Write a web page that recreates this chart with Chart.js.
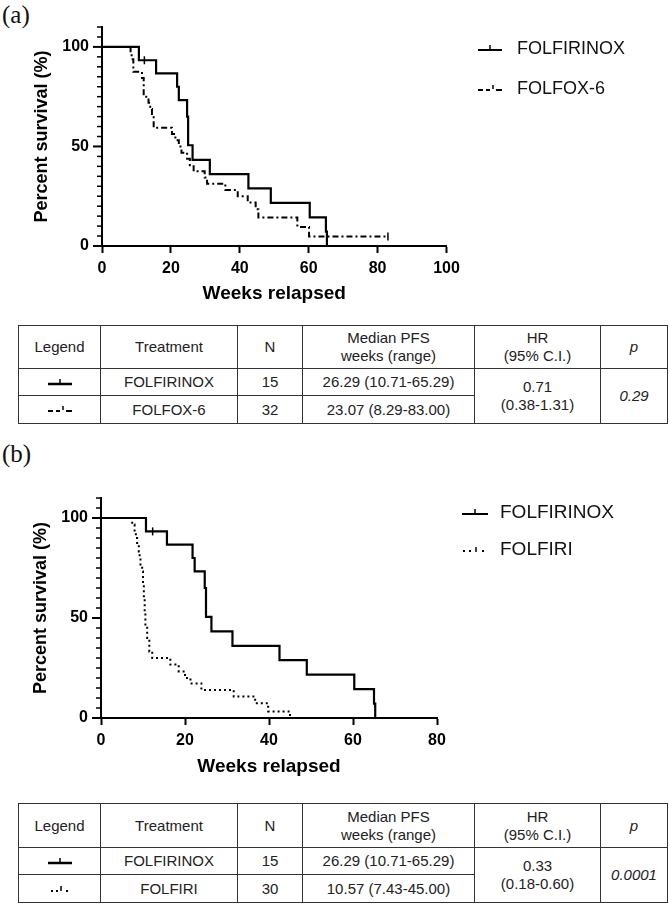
<!DOCTYPE html>
<html>
<head>
<meta charset="utf-8">
<script src="https://cdn.jsdelivr.net/npm/chart.js@4.4.1/dist/chart.umd.min.js"></script>
<style>
  body { margin: 0; background: #fff; width: 669px; height: 907px; position: relative; overflow: hidden;
         font-family: "Liberation Sans", Arial, sans-serif; color: #111; }
  .panel-label { position: absolute; left: 2px; font-family: "Liberation Serif", "Times New Roman", serif;
                 font-size: 25px; line-height: 28px; }
  .chart-box { position: absolute; left: 0; width: 480px; height: 320px; }
  .leg { position: absolute; height: 24px; display: flex; align-items: center; white-space: nowrap; }
  table.stats { position: absolute; left: 18px; width: 649px; border-collapse: collapse; table-layout: fixed;
                font-family: "Liberation Sans Narrow", "Arial Narrow", "Liberation Sans", sans-serif;
                font-size: 15px; color: #222; text-align: center; }
  table.stats td { border: 1.5px solid #333; padding: 0; line-height: 18px; vertical-align: middle; }
</style>
</head>
<body>

<div class="panel-label" style="top:1px">(a)</div>
<div class="chart-box" style="top:0"><canvas id="chartA" width="480" height="320"></canvas></div>
<div class="leg" style="left:478px; top:36px; font-size:18px">
  <svg width="26" height="14"><line x1="0" y1="9" x2="24" y2="9" stroke="#000" stroke-width="2"/><line x1="12" y1="9" x2="12" y2="4" stroke="#000" stroke-width="1.5"/></svg>
  <span style="margin-left:13px">FOLFIRINOX</span>
</div>
<div class="leg" style="left:478px; top:76px; font-size:18px">
  <svg width="26" height="14"><line x1="0" y1="9" x2="5" y2="9" stroke="#000" stroke-width="2"/><line x1="8" y1="9" x2="12" y2="9" stroke="#000" stroke-width="2"/><line x1="15" y1="8" x2="15" y2="4" stroke="#000" stroke-width="1.5"/><line x1="18" y1="9" x2="24" y2="9" stroke="#000" stroke-width="2"/></svg>
  <span style="margin-left:13px">FOLFOX-6</span>
</div>

<table class="stats" style="top:325px">
  <colgroup><col style="width:82px"><col style="width:137px"><col style="width:65px"><col style="width:172px"><col style="width:126px"><col style="width:67px"></colgroup>
  <tr style="height:43px"><td>Legend</td><td>Treatment</td><td>N</td><td>Median PFS<br>weeks (range)</td><td>HR<br>(95% C.I.)</td><td><i>p</i></td></tr>
  <tr style="height:27px"><td><svg width="26" height="12"><line x1="1" y1="9" x2="25" y2="9" stroke="#000" stroke-width="2.5"/><line x1="13" y1="9" x2="13" y2="4" stroke="#000" stroke-width="1.5"/></svg></td><td>FOLFIRINOX</td><td>15</td><td>26.29 (10.71-65.29)</td><td rowspan="2">0.71<br>(0.38-1.31)</td><td rowspan="2"><i>0.29</i></td></tr>
  <tr style="height:28px"><td><svg width="26" height="12"><line x1="1" y1="8" x2="6" y2="8" stroke="#000" stroke-width="2"/><line x1="9" y1="8" x2="13" y2="8" stroke="#000" stroke-width="2"/><line x1="16" y1="7" x2="16" y2="3" stroke="#000" stroke-width="1.5"/><line x1="19" y1="8" x2="25" y2="8" stroke="#000" stroke-width="2"/></svg></td><td>FOLFOX-6</td><td>32</td><td>23.07 (8.29-83.00)</td></tr>
</table>

<div class="panel-label" style="top:440px">(b)</div>
<div class="chart-box" style="top:470px"><canvas id="chartB" width="480" height="320"></canvas></div>
<div class="leg" style="left:462px; top:500px; font-size:19px">
  <svg width="26" height="14"><line x1="0" y1="9" x2="26" y2="9" stroke="#000" stroke-width="2"/><line x1="13" y1="9" x2="13" y2="4" stroke="#000" stroke-width="1.5"/></svg>
  <span style="margin-left:12px">FOLFIRINOX</span>
</div>
<div class="leg" style="left:462px; top:537px; font-size:19px">
  <svg width="26" height="14"><rect x="1" y="8" width="2" height="2" fill="#000"/><rect x="7" y="8" width="2" height="2" fill="#000"/><line x1="14" y1="10" x2="14" y2="5" stroke="#000" stroke-width="1.5"/><rect x="20" y="8" width="2" height="2" fill="#000"/></svg>
  <span style="margin-left:12px">FOLFIRI</span>
</div>

<table class="stats" style="top:803px">
  <colgroup><col style="width:82px"><col style="width:137px"><col style="width:65px"><col style="width:172px"><col style="width:126px"><col style="width:67px"></colgroup>
  <tr style="height:44px"><td>Legend</td><td>Treatment</td><td>N</td><td>Median PFS<br>weeks (range)</td><td>HR<br>(95% C.I.)</td><td><i>p</i></td></tr>
  <tr style="height:27px"><td><svg width="26" height="12"><line x1="1" y1="9" x2="25" y2="9" stroke="#000" stroke-width="2.5"/><line x1="13" y1="9" x2="13" y2="4" stroke="#000" stroke-width="1.5"/></svg></td><td>FOLFIRINOX</td><td>15</td><td>26.29 (10.71-65.29)</td><td rowspan="2">0.33<br>(0.18-0.60)</td><td rowspan="2"><i>0.0001</i></td></tr>
  <tr style="height:28px"><td><svg width="26" height="12"><rect x="4" y="8" width="2" height="2" fill="#000"/><rect x="9" y="8" width="2" height="2" fill="#000"/><line x1="14" y1="9" x2="14" y2="4" stroke="#000" stroke-width="1.5"/><rect x="19" y="8" width="2" height="2" fill="#000"/></svg></td><td>FOLFIRI</td><td>30</td><td>10.57 (7.43-45.00)</td></tr>
</table>

<script>
// Kaplan-Meier curves (weeks, % surviving)
const folfirinoxWeeks = [0, 10.71, 15.7, 21.8, 22.3, 24.7, 25.0, 26.29, 31.3, 42.5, 49.0, 60.3, 65.0, 65.29];
const folfirinoxSurv  = [100, 93.3, 86.7, 80.0, 73.3, 65.0, 50.6, 43.3, 36.1, 28.9, 21.7, 14.4, 7.2, 0];
const folfirinoxCensorWeeks = [12.3];
const folfirinoxCensorSurv  = [93.3];

const folfoxWeeks = [0, 8.29, 8.6, 9.1, 11.6, 12.1, 13.5, 14.0, 14.5, 15.0, 20.3, 21.3, 22.3, 23.07, 24.7, 25.5, 26.6, 29.8, 30.5, 35.8, 39.4, 42.3, 44.6, 45.4, 56.7, 60.1, 83.0];
const folfoxSurv  = [100, 96.9, 93.8, 87.5, 84.4, 75.0, 71.9, 68.8, 65.6, 59.4, 56.3, 53.1, 50.0, 46.9, 43.8, 40.6, 37.5, 34.4, 31.3, 28.1, 25.0, 21.9, 18.5, 14.3, 9.6, 4.8, 4.8];
const folfoxCensorWeeks = [83.0];
const folfoxCensorSurv  = [4.8];

const folfiriWeeks = [0, 7.43, 8.0, 8.3, 8.6, 9.0, 9.2, 9.4, 9.8, 10.0, 10.2, 10.4, 10.57, 11.0, 11.5, 12.2, 16.5, 18.5, 20.0, 21.3, 23.9, 31.6, 36.7, 39.8, 45.0];
const folfiriSurv  = [100, 96.7, 93.3, 90.0, 86.7, 83.3, 80.0, 76.7, 73.3, 66.7, 60.0, 53.3, 46.7, 40.0, 33.3, 30.0, 26.7, 23.3, 20.0, 17.3, 14.0, 10.7, 7.4, 3.3, 0];

const yTicksLabelled = [0, 50, 100];
const xMaxA = 100;
const xMaxB = 80;

const FONT = '"Liberation Sans", Arial, sans-serif';

function toPoints(xs, ys) {
    return xs.map((x, i) => ({ x: x, y: ys[i] }));
}

function curve(xs, ys, dash, width) {
    return {
        type: 'line',
        data: toPoints(xs, ys),
        borderColor: '#000',
        borderWidth: width,
        borderDash: dash,
        stepped: 'before',
        pointRadius: 0,
        fill: false,
        clip: false
    };
}

function censor(xs, ys) {
    return {
        type: 'scatter',
        data: toPoints(xs, ys),
        pointStyle: 'line',
        rotation: 90,
        pointRadius: 4,
        borderColor: '#000',
        borderWidth: 1.5,
        showLine: false,
        clip: false
    };
}

// Prism style y ticks: long at labelled values, short minor ticks
const prismTicks = {
    id: 'prismTicks',
    afterDraw(chart) {
        const y = chart.scales.y;
        const ctx = chart.ctx;
        const left = chart.chartArea.left;
        ctx.save();
        ctx.strokeStyle = '#000';
        y.ticks.forEach(t => {
            const py = y.getPixelForValue(t.value);
            const major = yTicksLabelled.includes(t.value);
            ctx.lineWidth = major ? 2 : 1.5;
            ctx.beginPath();
            ctx.moveTo(left, py);
            ctx.lineTo(left - (major ? 9 : 5), py);
            ctx.stroke();
        });
        ctx.restore();
    }
};

function makeChart(id, datasets, xMax, layout) {
    const ctx = document.getElementById(id).getContext('2d');
    return new Chart(ctx, {
        type: 'line',
        data: { datasets: datasets },
        plugins: [prismTicks],
        options: {
            responsive: false,
            animation: false,
            layout: { padding: layout.padding },
            plugins: { legend: { display: false }, tooltip: { enabled: false } },
            scales: {
                x: {
                    type: 'linear',
                    min: 0,
                    max: xMax,
                    afterFit(s) { s.height = layout.xHeight; },
                    border: { color: '#000', width: 2 },
                    grid: { drawOnChartArea: false, drawTicks: true, tickLength: 7, tickWidth: 2, tickColor: '#000' },
                    ticks: { stepSize: 20, padding: 6, maxRotation: 0, color: '#000',
                             font: { family: FONT, size: 16, weight: 'bold' } },
                    title: { display: true, text: 'Weeks relapsed', color: '#000',
                             padding: { top: 4, bottom: 4 },
                             font: { family: FONT, size: 19, weight: 'bold' } }
                },
                y: {
                    type: 'linear',
                    min: 0,
                    max: 110,
                    afterFit(s) { s.width = 75; },
                    border: { color: '#000', width: 2 },
                    grid: { drawOnChartArea: false, drawTicks: false },
                    ticks: { stepSize: 5, autoSkip: false, padding: 13, color: '#000',
                             font: { family: FONT, size: 16, weight: 'bold' },
                             callback: v => yTicksLabelled.includes(v) ? v : '' },
                    title: { display: true, text: 'Percent survival (%)', color: '#000',
                             padding: { top: 4, bottom: 4 },
                             font: { family: FONT, size: 18, weight: 'bold' } }
                }
            }
        }
    });
}

makeChart('chartA', [
    curve(folfirinoxWeeks, folfirinoxSurv, [], 2.2),
    censor(folfirinoxCensorWeeks, folfirinoxCensorSurv),
    curve(folfoxWeeks, folfoxSurv, [6, 3, 2, 3], 2),
    censor(folfoxCensorWeeks, folfoxCensorSurv)
], xMaxA, { padding: { left: 27, top: 27, right: 33.5, bottom: 10.6 }, xHeight: 63.4 });

makeChart('chartB', [
    curve(folfirinoxWeeks, folfirinoxSurv, [], 2.2),
    censor(folfirinoxCensorWeeks, folfirinoxCensorSurv),
    curve(folfiriWeeks, folfiriSurv, [2, 3], 2)
], xMaxB, { padding: { left: 26, top: 28, right: 43, bottom: 7.6 }, xHeight: 64.4 });
</script>
</body>
</html>
